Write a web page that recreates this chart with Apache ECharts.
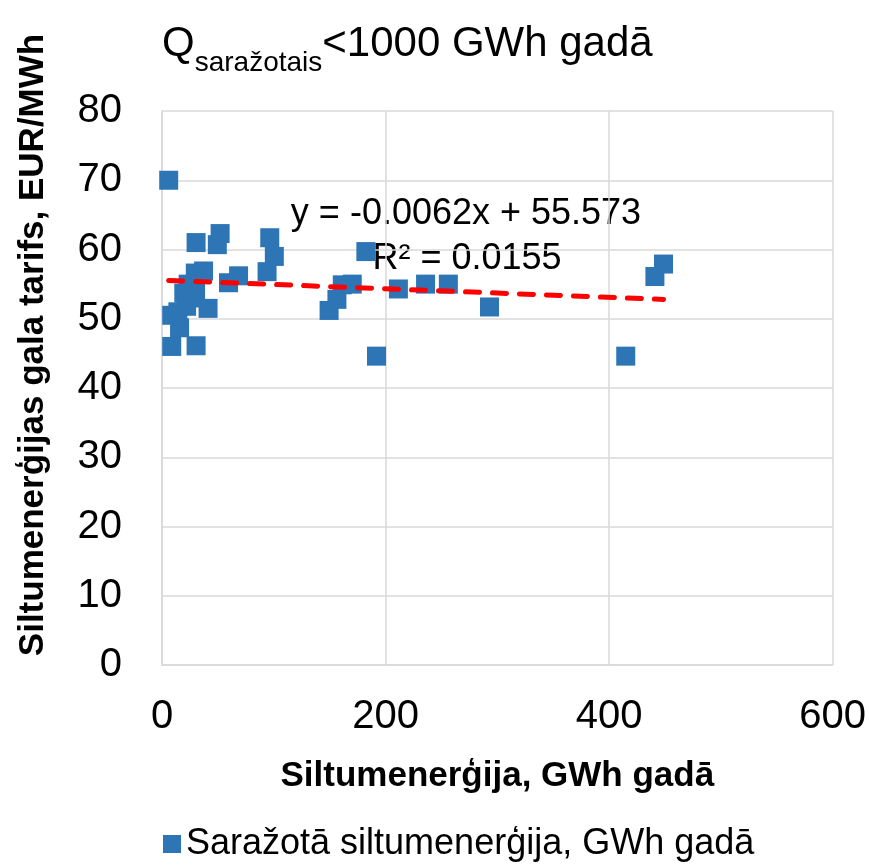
<!DOCTYPE html>
<html>
<head>
<meta charset="utf-8">
<script src="https://cdn.jsdelivr.net/npm/echarts@6/dist/echarts.min.js"></script>
<style>
  html, body { margin: 0; padding: 0; background: #fff; }
  #chart { width: 869px; height: 868px; }
</style>
</head>
<body>
<div id="chart"></div>
<script>
// Produced heat (GWh per year) vs. final heat tariff (EUR/MWh)
const producedHeat = [
  6, 30.5, 52, 49.5, 96.4, 100.5, 94, 37.2, 29.8, 59.5, 68.5, 182.4,
  8.7, 8.7, 30.5, 15.7, 41.2, 23.4, 19.5, 14.2, 30, 22, 25,
  149.5, 156.5, 161.3, 170.2, 191.9, 211.5, 235.8, 256.2, 293,
  414.9, 441, 448.7
];
const finalTariff = [
  70.0, 61.0, 62.3, 60.7, 61.7, 59.0, 56.8, 56.9, 56.6, 55.2, 56.2, 59.7,
  50.5, 46.0, 46.1, 48.7, 51.5, 55.0, 53.7, 51.0, 54.2, 51.8, 53.0,
  51.2, 52.8, 54.9, 55.0, 44.6, 54.3, 55.0, 55.0, 51.7,
  44.6, 56.1, 57.9
];

// Linear trend line coefficients
const trendSlope = -0.0062;
const trendIntercept = 55.573;
const trendRSquared = 0.0155;

const xTicks = [0, 200, 400, 600];
const yTicks = [0, 10, 20, 30, 40, 50, 60, 70, 80];

const seriesName = 'Saražotā siltumenerģija, GWh gadā';
const FONT = '"Liberation Sans", Arial, sans-serif';

const points = producedHeat.map((x, i) => [x, finalTariff[i]]);
const xMin = Math.min(...producedHeat);
const xMax = Math.max(...producedHeat);
const trendLine = [
  [xMin, trendSlope * xMin + trendIntercept],
  [xMax, trendSlope * xMax + trendIntercept]
];

const chart = echarts.init(document.getElementById('chart'), null, { renderer: 'canvas' });

chart.setOption({
  animation: false,
  backgroundColor: '#ffffff',
  title: {
    left: 157,
    top: 10,
    text: '{q|Q}{s|saražotais}{q|<1000 GWh gadā}',
    textStyle: {
      fontWeight: 'normal',
      rich: {
        q: { fontFamily: FONT, fontSize: 42, fontWeight: 'normal', color: '#000', verticalAlign: 'bottom', lineHeight: 50 },
        s: { fontFamily: FONT, fontSize: 28, fontWeight: 'normal', color: '#000', verticalAlign: 'bottom', lineHeight: 50, padding: [0, 0, -12, 0] }
      }
    }
  },
  grid: { left: 162, right: 33, top: 111, bottom: 203, containLabel: false },
  legend: {
    bottom: 1,
    left: 158,
    itemWidth: 18,
    itemHeight: 18,
    data: [{ name: seriesName, icon: 'rect' }],
    textStyle: { fontFamily: FONT, fontSize: 36, color: '#000' }
  },
  xAxis: {
    type: 'value',
    min: xTicks[0],
    max: xTicks[xTicks.length - 1],
    interval: 200,
    name: 'Siltumenerģija, GWh gadā',
    nameLocation: 'middle',
    nameGap: 94,
    nameTextStyle: { fontFamily: FONT, fontSize: 35, fontWeight: 'bold', color: '#000' },
    axisLine: { show: true, lineStyle: { color: '#d9d9d9', width: 1.5 } },
    axisTick: { show: false },
    axisLabel: { fontFamily: FONT, fontSize: 40, color: '#000', margin: 32 },
    splitLine: { show: true, lineStyle: { color: '#d9d9d9', width: 1.5 } }
  },
  yAxis: {
    type: 'value',
    min: yTicks[0],
    max: yTicks[yTicks.length - 1],
    interval: 10,
    axisLine: { show: true, lineStyle: { color: '#d9d9d9', width: 1.5 } },
    axisTick: { show: false },
    axisLabel: { fontFamily: FONT, fontSize: 40, color: '#000', margin: 40 },
    splitLine: { show: true, lineStyle: { color: '#d9d9d9', width: 1.5 } }
  },
  graphic: [
    {
      type: 'text',
      x: 33,
      y: 345,
      rotation: Math.PI / 2,
      style: {
        text: 'Siltumenerģijas gala tarifs, EUR/MWh',
        fontFamily: FONT,
        fontSize: 35,
        fontWeight: 'bold',
        fill: '#000',
        align: 'center',
        verticalAlign: 'middle'
      }
    },
    {
      type: 'text',
      x: 466,
      y: 214,
      style: {
        text: 'y = ' + trendSlope + 'x + ' + trendIntercept,
        fontFamily: FONT,
        fontSize: 36,
        fill: '#000',
        align: 'center',
        verticalAlign: 'middle'
      }
    },
    {
      type: 'text',
      x: 467,
      y: 259,
      style: {
        text: 'R² = ' + trendRSquared,
        fontFamily: FONT,
        fontSize: 36,
        fill: '#000',
        align: 'center',
        verticalAlign: 'middle'
      }
    }
  ],
  series: [
    {
      name: seriesName,
      type: 'scatter',
      symbol: 'rect',
      symbolSize: 19,
      data: points,
      itemStyle: { color: '#2E75B6', opacity: 1 },
      z: 2
    },
    {
      name: 'trend',
      type: 'line',
      data: trendLine,
      symbol: 'none',
      silent: true,
      lineStyle: { color: '#ff0000', width: 5, type: [14, 13], cap: 'round' },
      z: 3
    }
  ]
});
</script>
</body>
</html>
